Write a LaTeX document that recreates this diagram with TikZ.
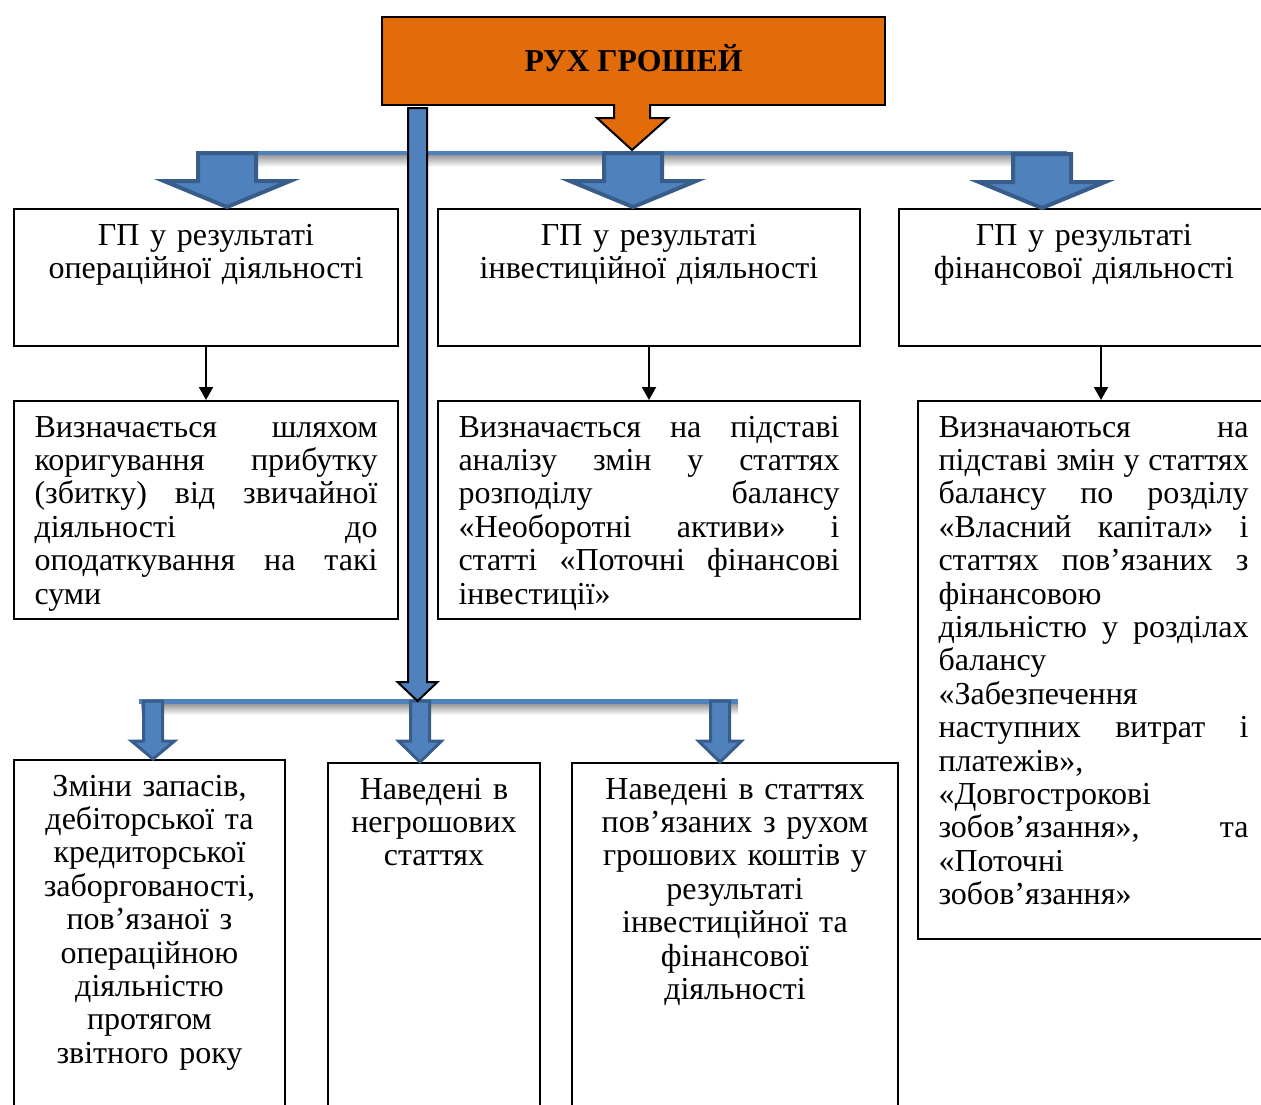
\documentclass[tikz,border=0pt]{standalone}
\usepackage{fontspec}
\setmainfont{Liberation Serif}
\usepackage{tikz}
\usetikzlibrary{arrows.meta, positioning, calc}
\definecolor{MoneyOrange}{RGB}{227, 108, 10}
\definecolor{FlowBlue}{RGB}{79, 129, 189}
\definecolor{FlowBlueDark}{RGB}{56, 93, 138}
\newcommand{\bodyfont}{\fontsize{16}{16.7}\selectfont\hyphenpenalty=10000\relax}
% block arrow: centre x, top, neck, half shaft, half head, tip
\newcommand{\blockarr}[7][]{%
  \path[#1] (#2-#5,#3) -- (#2+#5,#3) -- (#2+#5,#4) -- (#2+#6,#4) -- (#2,#7) -- (#2-#6,#4) -- (#2-#5,#4) -- cycle;}
\tikzset{
  cell/.style={draw, line width=1pt, anchor=north west, inner xsep=10.25pt, inner ysep=7pt,
               text height=11pt, font=\bodyfont},
  headcell/.style={cell, align=center, text depth=43.5pt},
  notecell/.style={cell, align=justify, text depth=84pt},
  itemcell/.style={cell, align=center, text depth=175pt},
  link/.style={draw, line width=1pt, -{Triangle[length=6.5pt, width=7pt]}},
  hline/.style={draw=FlowBlue, line width=2.2pt},
  bigarr/.style={fill=FlowBlue, draw=FlowBlueDark, line width=2pt},
  smallarr/.style={fill=FlowBlue, draw=FlowBlueDark, line width=1.5pt},
}
\begin{document}
\begin{tikzpicture}[x=0.5pt, y=-0.5pt]
  \useasboundingbox (0,0) rectangle (1261,1104);

  \node[draw, line width=1pt, fill=MoneyOrange, anchor=north west, minimum width=251.5pt,
        minimum height=44pt, text height=10.5pt, text depth=0pt,
        font=\fontsize{15.9}{18}\selectfont\bfseries] (title) at (381,16) {РУХ ГРОШЕЙ};

  \node[headcell, text width=171.5pt] (op1) at (13,208) {ГП у результаті\\операційної діяльності};
  \node[headcell, text width=190.5pt] (inv1) at (437,208) {ГП у результаті\\інвестиційної діяльності};
  \node[headcell, text width=164.5pt] (fin1) at (898,208) {ГП у результаті\\фінансової діяльності};

  \node[notecell, text width=171.5pt] (op2) at (13,400) {Визначається шляхом\linebreak
    коригування прибутку\linebreak (збитку) від звичайної\linebreak діяльності до\linebreak
    оподаткування на такі\linebreak суми};
  \node[notecell, text width=190.5pt] (inv2) at (437,400) {Визначається на підставі\linebreak
    аналізу змін у статтях\linebreak розподілу балансу\linebreak «Необоротні активи» і\linebreak
    статті «Поточні фінансові\linebreak інвестиції»};
  \node[notecell, text width=155pt, text depth=244pt] (fin2) at (917,400) {Визначаються на\linebreak
    підставі змін у статтях\linebreak балансу по розділу\linebreak «Власний капітал» і\linebreak
    статтях пов’язаних з\linebreak фінансовою\linebreak діяльністю у розділах\linebreak
    балансу\linebreak «Забезпечення\linebreak наступних витрат і\linebreak платежів»,\linebreak
    «Довгострокові\linebreak зобов’язання», та\linebreak «Поточні\linebreak зобов’язання»};

  \node[itemcell, text width=115pt] (stock) at (13,759) {Зміни запасів,\\дебіторської та\\кредиторської\\
    заборгованості,\\пов’язаної з\\операційною\\діяльністю\\протягом\\звітного року};
  \node[itemcell, text width=85.5pt] (noncash) at (327,762) {Наведені в\\негрошових\\статтях};
  \node[itemcell, text width=142.5pt] (related) at (571,762) {Наведені в статтях\\пов’язаних з рухом\\
    грошових коштів у\\результаті\\інвестиційної та\\фінансової\\діяльності};

  \draw[link] (op1.south) -- (op2.north);
  \draw[link] (inv1.south) -- (inv2.north);
  \draw[link] ([xshift=8.5pt]fin1.south) -- ([xshift=8.5pt]fin1.south |- fin2.north);

  \shade[top color=black!40, bottom color=white] (198,155) rectangle (1067,167);
  \draw[hline] (196,153) -- (1067,153);
  \blockarr[bigarr]{227}{153}{181}{29}{63}{207}
  \blockarr[bigarr]{633}{153}{181}{29}{63}{207}
  \blockarr[bigarr]{1042}{154}{182}{29}{63}{208}

  \fill[MoneyOrange] (614,103) -- (650,103) -- (650,118) -- (668,118) -- (632,150) -- (597,118) -- (614,118) -- cycle;
  \draw[line width=1pt] (614,104) -- (614,118) -- (597,118) -- (632,150) -- (668,118) -- (650,118) -- (650,104);

  \shade[top color=black!40, bottom color=white] (141,704) rectangle (738,715);
  \draw[hline] (139,701.5) -- (738,701.5);
  \blockarr[smallarr]{153}{701}{741}{9.5}{21.5}{759}
  \blockarr[smallarr]{420}{701}{741}{9.5}{21.5}{762}
  \blockarr[smallarr]{720}{701}{741}{9.5}{21.5}{762}

  \blockarr[fill=FlowBlue, draw=black, line width=1pt]{417.5}{108}{682}{9.5}{20}{701}
\end{tikzpicture}
\end{document}
